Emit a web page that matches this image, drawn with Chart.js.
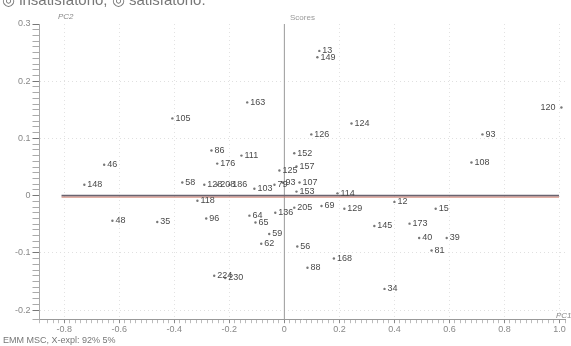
<!DOCTYPE html>
<html lang="pt-BR">
<head>
<meta charset="UTF-8">
<title>Scores</title>
<style>
    body { margin: 0; background: #fff; font-family: Arial, "Liberation Sans", sans-serif; }
    .wrap { position: relative; width: 571px; height: 346px; overflow: hidden; }
    .nota { position: absolute; left: 2px; top: -9px; font-size: 15px; color: #777; white-space: nowrap; }
    .titulo { position: absolute; left: 290px; top: 13px; font-size: 8px; color: #999; }
    .pc2 { position: absolute; left: 58px; top: 12px; font-size: 8px; font-style: italic; color: #888; }
    .pc1 { position: absolute; left: 556px; top: 311px; font-size: 8px; font-style: italic; color: #888; }
    .rodape { position: absolute; left: 3px; top: 335px; font-size: 9px; color: #777; white-space: nowrap; }
</style>
</head>
<body>
<div class="wrap">
    <canvas id="grafico"></canvas>
    <div class="nota">◎ insatisfatório; ◎ satisfatório.</div>
    <div class="titulo">Scores</div>
    <div class="pc2">PC2</div>
    <div class="pc1">PC1</div>
    <div class="rodape">EMM MSC, X-expl: 92% 5%</div>
</div>

<script src="https://cdn.jsdelivr.net/npm/chart.js"></script>
<script>
    // amostras (rótulo, PC1, PC2)
    const rotulos = ['13', '149', '163', '105', '120', '124', '126', '93', '152', '108',
        '157', '93', '107', '153', '114', '205', '69', '129', '12', '15',
        '145', '173', '40', '39', '81', '56', '168', '88', '34', '46',
        '148', '48', '35', '96', '64', '65', '59', '62', '136', '224',
        '230', '86', '111', '176', '58', '128', '208', '186', '103', '79',
        '125', '118'];
    const pc1 = [0.127, 0.12, -0.135, -0.407, 1.007, 0.244, 0.098, 0.72, 0.036, 0.68,
        0.044, -0.007, 0.055, 0.044, 0.193, 0.036, 0.135, 0.218, 0.40, 0.55,
        0.327, 0.455, 0.49, 0.59, 0.535, 0.047, 0.18, 0.084, 0.364, -0.655,
        -0.727, -0.625, -0.462, -0.284, -0.127, -0.105, -0.055, -0.084, -0.033, -0.255,
        -0.215, -0.265, -0.156, -0.244, -0.371, -0.291, -0.244, -0.2, -0.109, -0.036,
        -0.018, -0.316];
    const pc2 = [0.253, 0.242, 0.163, 0.135, 0.154, 0.126, 0.107, 0.107, 0.074, 0.058,
        0.051, 0.023, 0.023, 0.007, 0.004, -0.021, -0.018, -0.023, -0.011, -0.023,
        -0.053, -0.049, -0.074, -0.074, -0.096, -0.089, -0.11, -0.126, -0.163, 0.054,
        0.019, -0.044, -0.046, -0.040, -0.035, -0.047, -0.067, -0.084, -0.030, -0.14,
        -0.144, 0.079, 0.070, 0.056, 0.023, 0.019, 0.019, 0.019, 0.012, 0.019,
        0.044, -0.009];

    const pontos = pc1.map((x, i) => ({ x: x, y: pc2[i] }));

    function ehMultiplo(v, passo) {
        const q = v / passo;
        return Math.abs(q - Math.round(q)) < 1e-6;
    }

    // eixos zero + rótulos dos pontos
    const extras = {
        id: 'extras',
        beforeDatasetsDraw(chart) {
            const { ctx, chartArea: a, scales: { x, y } } = chart;
            const x0 = x.getPixelForValue(0);
            const y0 = y.getPixelForValue(0);
            ctx.save();
            ctx.strokeStyle = '#999';
            ctx.lineWidth = 1;
            ctx.beginPath();
            ctx.moveTo(x0, a.top);
            ctx.lineTo(x0, a.bottom);
            ctx.stroke();
            ctx.strokeStyle = '#6a6470';
            ctx.lineWidth = 1.6;
            ctx.beginPath();
            ctx.moveTo(x.getPixelForValue(-0.81), y0);
            ctx.lineTo(a.right - 6, y0);
            ctx.stroke();
            ctx.strokeStyle = '#d08070';
            ctx.lineWidth = 1;
            ctx.beginPath();
            ctx.moveTo(x.getPixelForValue(-0.81), y0 + 1.5);
            ctx.lineTo(a.right - 6, y0 + 1.5);
            ctx.stroke();
            ctx.restore();
        },
        afterDatasetsDraw(chart) {
            const { ctx } = chart;
            const meta = chart.getDatasetMeta(0);
            ctx.save();
            ctx.font = '9px Arial';
            ctx.fillStyle = '#4a4a4a';
            ctx.textBaseline = 'middle';
            meta.data.forEach((p, i) => {
                if (pc1[i] > 0.95) {
                    ctx.textAlign = 'right';
                    ctx.fillText(rotulos[i], p.x - 6, p.y);
                } else {
                    ctx.textAlign = 'left';
                    ctx.fillText(rotulos[i], p.x + 3, p.y);
                }
            });
            ctx.restore();
        }
    };

    new Chart(document.getElementById('grafico'), {
        type: 'scatter',
        data: {
            datasets: [{
                data: pontos,
                pointRadius: 1.2,
                pointBackgroundColor: '#777',
                pointBorderWidth: 0
            }]
        },
        options: {
            responsive: true,
            maintainAspectRatio: false,
            animation: false,
            layout: { padding: { left: 13, right: 6, top: 24, bottom: 10 } },
            plugins: { legend: { display: false }, tooltip: { enabled: false } },
            scales: {
                x: {
                    min: -0.89,
                    max: 1.02,
                    ticks: {
                        stepSize: 0.02,
                        autoSkip: false,
                        maxRotation: 0,
                        padding: 1,
                        color: '#888',
                        font: { size: 9 },
                        callback: v => ehMultiplo(v, 0.2) ? (Math.abs(v) < 1e-6 ? '0' : v.toFixed(1)) : ''
                    },
                    grid: {
                        color: c => (c.tick && ehMultiplo(c.tick.value, 0.2) && Math.abs(c.tick.value) > 1e-6) ? '#e2e2e2' : 'rgba(0,0,0,0)',
                        tickColor: c => (c.tick && ehMultiplo(c.tick.value, 0.2)) ? '#888' : '#bbb',
                        tickLength: 4
                    },
                    border: { color: '#999', dash: [1, 3] }
                },
                y: {
                    min: -0.216,
                    max: 0.3,
                    ticks: {
                        stepSize: 0.01,
                        autoSkip: false,
                        padding: 2,
                        color: '#888',
                        font: { size: 9 },
                        callback: v => ehMultiplo(v, 0.1) ? (Math.abs(v) < 1e-6 ? '0' : v.toFixed(1)) : ''
                    },
                    grid: {
                        color: c => (c.tick && ehMultiplo(c.tick.value, 0.1) && Math.abs(c.tick.value) > 1e-6 && c.tick.value < 0.29) ? '#e0e0e0' : 'rgba(0,0,0,0)',
                        tickColor: c => (c.tick && ehMultiplo(c.tick.value, 0.1)) ? '#777' : '#aaa',
                        tickLength: 7
                    },
                    border: { color: '#aaa', dash: [1, 3] }
                }
            }
        },
        plugins: [extras]
    });
</script>
</body>
</html>
